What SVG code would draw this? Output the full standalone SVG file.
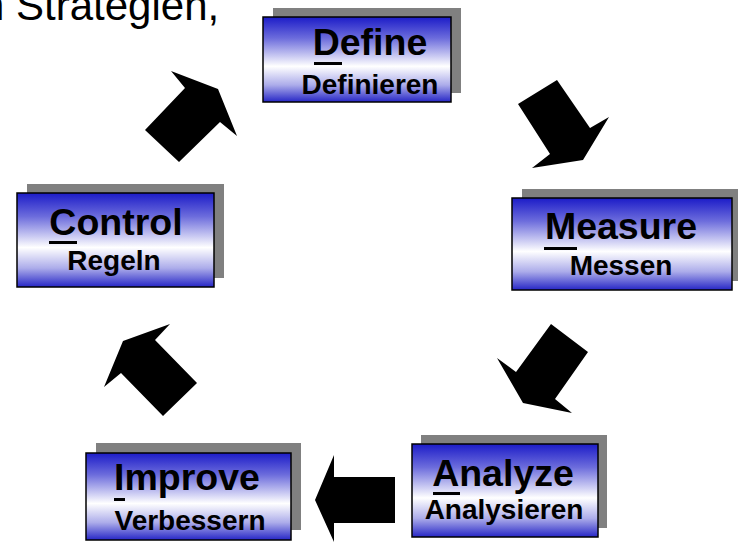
<svg xmlns="http://www.w3.org/2000/svg" width="738" height="543" viewBox="0 0 738 543">
  <defs>
    <linearGradient id="boxfill" x1="0" y1="0" x2="0" y2="1">
      <stop offset="0" stop-color="#1c1cc8"/>
      <stop offset="0.25" stop-color="#6c6cdc"/>
      <stop offset="0.58" stop-color="#ffffff"/>
      <stop offset="0.8" stop-color="#acacea"/>
      <stop offset="1" stop-color="#2626c6"/>
    </linearGradient>
    <style>
      .shadow { fill: #808080; }
      .box { fill: url(#boxfill); stroke: #000000; stroke-width: 1.5; }
      .title { font-family: "Liberation Sans", Arial, sans-serif; font-weight: bold; font-size: 37.5px; fill: #000000; text-anchor: middle; }
      .sub { font-family: "Liberation Sans", Arial, sans-serif; font-weight: bold; font-size: 28px; fill: #000000; text-anchor: middle; }
      .ul { fill: #000000; }
      .arrow { fill: #000000; }
      .head { font-family: "Liberation Sans", Arial, sans-serif; font-size: 42px; fill: #000000; }
    </style>
  </defs>

  <text class="head" x="-19" y="20">n Strategien,</text>

  <g id="define">
    <rect class="shadow" x="273" y="8" width="188" height="85"/>
    <rect class="box" x="263" y="17" width="188" height="85"/>
    <text class="title" x="370" y="55">Define</text>
    <rect class="ul" x="314" y="62" width="28" height="3"/>
    <text class="sub" x="370" y="94">Definieren</text>
  </g>

  <g id="measure">
    <rect class="shadow" x="522" y="189" width="220" height="92"/>
    <rect class="box" x="512" y="198" width="220" height="92"/>
    <text class="title" x="621" y="239">Measure</text>
    <rect class="ul" x="544" y="247" width="33" height="3"/>
    <text class="sub" x="621" y="275">Messen</text>
  </g>

  <g id="analyze">
    <rect class="shadow" x="421" y="435" width="186" height="93"/>
    <rect class="box" x="412" y="444" width="186" height="93"/>
    <text class="title" x="503" y="486">Analyze</text>
    <rect class="ul" x="433" y="492" width="27" height="3"/>
    <text class="sub" x="504" y="519">Analysieren</text>
  </g>

  <g id="improve">
    <rect class="shadow" x="96" y="443" width="205" height="87"/>
    <rect class="box" x="86" y="453" width="205" height="87"/>
    <text class="title" x="187" y="490">Improve</text>
    <rect class="ul" x="114" y="498" width="11" height="3"/>
    <text class="sub" x="190" y="530">Verbessern</text>
  </g>

  <g id="control">
    <rect class="shadow" x="27" y="184" width="197" height="94"/>
    <rect class="box" x="17" y="193" width="197" height="94"/>
    <text class="title" x="116" y="235">Control</text>
    <rect class="ul" x="49" y="241" width="28" height="3"/>
    <text class="sub" x="114" y="270">Regeln</text>
  </g>

  <g id="connectors">
    <polygon class="arrow" points="145,130 179,162 220,122 237,136 218,89 171,71 185,88"/>
    <polygon class="arrow" points="518,104 557,80 590,128 609,117 583,160 532,168 550,154"/>
    <polygon class="arrow" points="551,324 588,352 555,399 572,413 523,403 497,358 516,372"/>
    <polygon class="arrow" points="395,477 334,477 334,455 315,500 334,542 334,523 395,523"/>
    <polygon class="arrow" points="170,324 123,341 104,387 121,373 163,416 197,383 155,340"/>
  </g>
</svg>
